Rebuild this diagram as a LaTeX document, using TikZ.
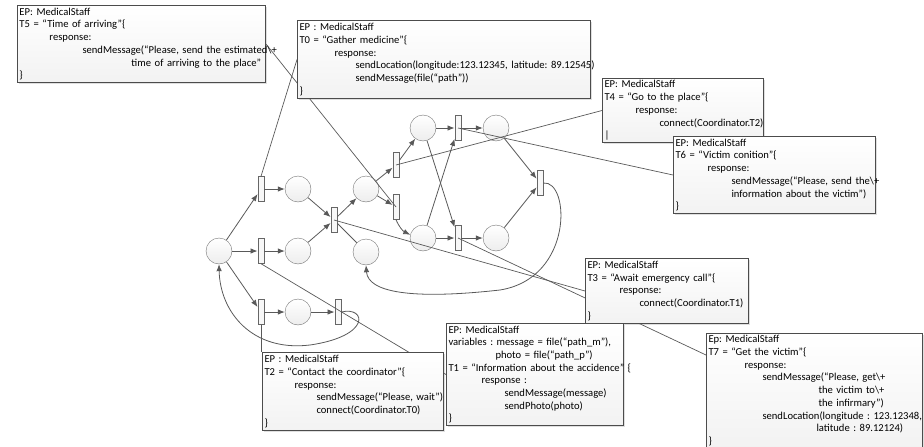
\documentclass[tikz,border=0pt]{standalone}
\usepackage{fontspec}
\setmainfont{Carlito}
\frenchspacing
\usetikzlibrary{arrows.meta, shadows}
\tikzset{>={Latex[length=7pt,width=5.5pt]}}
\tikzset{
	placecirc/.style={circle, draw=black!55, top color=white, bottom color=gray!14, minimum size=26pt, inner sep=0pt},
	transbar/.style={rectangle, draw=black!60, fill=gray!6, minimum width=6.5pt, minimum height=25pt, inner sep=0pt},
	flow/.style={draw=black!65, line width=0.8pt, ->},
	noteline/.style={draw=black!65, line width=0.7pt},
	notebox/.style={rectangle, draw=black!70, line width=1pt, top color=white, bottom color=gray!10,
		drop shadow={shadow xshift=1.5pt, shadow yshift=-1.5pt, opacity=0.25}, anchor=north west,
		align=left, inner sep=2pt, font=\fontsize{10.6}{12.7}\selectfont\frenchspacing},
}
\pgfdeclarelayer{front}
\pgfsetlayers{main,front}

\begin{document}
\begin{tikzpicture}[x=1pt, y=-1pt]
	\useasboundingbox (0,0) rectangle (924,447);

% draw places
	\node[placecirc] (p0) at (219,251) {};
	\node[placecirc] (pa) at (298,189) {};
	\node[placecirc] (pb) at (298,251) {};
	\node[placecirc] (pc) at (298,312) {};
	\node[placecirc] (pd) at (366,189) {};
	\node[placecirc] (pe) at (366,252) {};
	\node[placecirc] (ptl) at (423,128) {};
	\node[placecirc] (pbl) at (423,238) {};
	\node[placecirc] (ptr) at (496,128) {};
	\node[placecirc] (pbr) at (496,238) {};

% draw transitions
	\node[transbar] (t1a) at (261,189) {};
	\node[transbar] (t1b) at (261,251) {};
	\node[transbar] (t1c) at (261,312) {};
	\node[transbar] (t2b) at (338,312) {};
	\node[transbar] (tsync) at (334,220) {};
	\node[transbar] (tup) at (396,165) {};
	\node[transbar] (tlow) at (396,207) {};
	\node[transbar] (ttop) at (458,128) {};
	\node[transbar] (tbot) at (458,238) {};
	\node[transbar] (tfin) at (540,183) {};

% draw arcs
	\draw[flow] (p0) -- (t1a);
	\draw[flow] (p0) -- (t1b);
	\draw[flow] (p0) -- (t1c);
	\draw[flow] (t1a) -- (pa);
	\draw[flow] (t1b) -- (pb);
	\draw[flow] (t1c) -- (pc);
	\draw[flow] (pc) -- (t2b);
	\draw[flow] (pa) -- (tsync);
	\draw[flow] (pb) -- (tsync);
	\draw[flow, -] (pe) -- (tsync);
	\draw[flow] (tsync) -- (pd);
	\draw[flow] (pd) -- (tup);
	\draw[flow] (pd) -- (tlow);
	\draw[flow] (tup) -- (ptl);
	\draw[flow] (tlow.south) to[bend right=20] (pbl);
	\draw[flow] (ptl) -- (ttop);
	\draw[flow] (ptl) -- (tbot);
	\draw[flow] (pbl) -- (tbot);
	\draw[flow] (pbl) -- (ttop);
	\draw[flow] (ttop) -- (ptr);
	\draw[flow] (tbot) -- (pbr);
	\draw[flow] (ptr) -- (tfin);
	\draw[flow] (pbr) -- (tfin);
	\draw[flow] (tfin.east) .. controls (570,180) and (574,278) .. (500,290)
		.. controls (410,300) and (368,292) .. (pe.south);
	\draw[flow] (t2b.east) .. controls (366,306) and (372,336) .. (310,345)
		.. controls (252,352) and (220,312) .. (p0.south);

% draw annotation boxes
\begin{pgfonlayer}{front}
	\node[notebox, minimum width=248pt, minimum height=77pt, text width=244pt] (t5box) at (17,5) {%
		EP: MedicalStaff\\
		T5 = “Time of arriving”\{\\
		\hspace*{30pt}response:\\
		\hspace*{63pt}\mbox{sendMessage(“Please, send the estimated\textbackslash+}\\
		\hspace*{112pt}\mbox{time of arriving to the place”}\\
		\}};
	\node[notebox, minimum width=293pt, minimum height=78pt, text width=289pt] (t0box) at (297,20) {%
		EP : MedicalStaff\\
		T0 = “Gather medicine”\{\\
		\hspace*{35pt}response:\\
		\hspace*{56pt}\mbox{sendLocation(longitude:123.12345, latitude: 89.12545)}\\
		\hspace*{56pt}sendMessage(file(“path”))\\
		\}};
	\node[notebox, minimum width=161pt, minimum height=64pt, text width=157pt] (t4box) at (602,78) {%
		EP: MedicalStaff\\
		T4 = “Go to the place”\{\\
		\hspace*{31pt}response:\\
		\hspace*{55pt}\mbox{connect(Coordinator.T2)}\\
		|};
	\node[notebox, minimum width=202pt, minimum height=77pt, text width=198pt] (t6box) at (673,136) {%
		EP: MedicalStaff\\
		T6 = “Victim conition”\{\\
		\hspace*{32pt}response:\\
		\hspace*{56pt}\mbox{sendMessage(“Please, send the\textbackslash+}\\
		\hspace*{56pt}\mbox{information about the victim”)}\\
		\}};
	\node[notebox, minimum width=163pt, minimum height=65pt, text width=159pt] (t3box) at (585,258) {%
		EP: MedicalStaff\\
		T3 = “Await emergency call”\{\\
		\hspace*{32pt}response:\\
		\hspace*{52pt}\mbox{connect(Coordinator.T1)}\\
		\}};
	\node[notebox, minimum width=181pt, minimum height=78pt, text width=177pt] (t2box) at (262,352) {%
		EP : MedicalStaff\\
		T2 = “Contact the coordinator”\{\\
		\hspace*{30pt}response:\\
		\hspace*{52pt}\mbox{sendMessage(“Please, wait”)}\\
		\hspace*{52pt}\mbox{connect(Coordinator.T0)}\\
		\}};
	\node[notebox, minimum width=177pt, minimum height=102pt, text width=173pt] (t1box) at (446,323) {%
		EP: MedicalStaff\\
		\mbox{variables : message = file(“path\_m”),}\\
		\hspace*{47pt}photo = file(“path\_p”)\\
		\mbox{T1 = “Information about the accidence” \{}\\
		\hspace*{33pt}response :\\
		\hspace*{56pt}sendMessage(message)\\
		\hspace*{56pt}sendPhoto(photo)\\
		\}};
	\node[notebox, minimum width=216pt, minimum height=113pt, text width=212pt] (t7box) at (706,333) {%
		Ep: MedicalStaff\\
		T7 = “Get the victim”\{\\
		\hspace*{36pt}response:\\
		\hspace*{54pt}\mbox{sendMessage(“Please, get\textbackslash+}\\
		\hspace*{110pt}\mbox{the victim to\textbackslash+}\\
		\hspace*{110pt}\mbox{the infirmary”)}\\
		\hspace*{54pt}\mbox{sendLocation(longitude : 123.12348,}\\
		\hspace*{108pt}\mbox{latitude : 89.12124)}\\
		\}};
\end{pgfonlayer}

% connect boxes to transitions
	\draw[noteline] (t5box.east) -- (tlow.center);
	\draw[noteline] (t0box.west) -- (t1a.north);
	\draw[noteline] (t4box.west) -- (tup.center);
	\draw[noteline] (t6box.west) -- (ttop.center);
	\draw[noteline] (t3box.west) -- (tsync.center);
	\draw[noteline] (t1b.south) -- (t1box.west);
	\draw[noteline] (t1c.south) -- (t1c.south |- t2box.north);
	\draw[noteline] (tbot.center) -- ([yshift=-22pt]t7box.north west);
\end{tikzpicture}
\end{document}
